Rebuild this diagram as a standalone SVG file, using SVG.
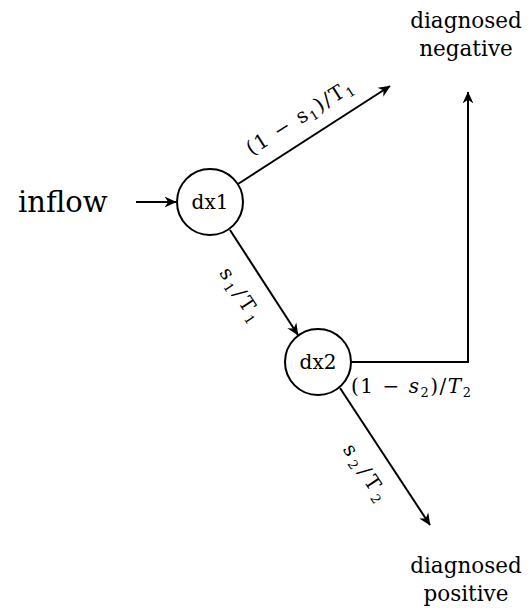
<svg xmlns="http://www.w3.org/2000/svg" width="532" height="608" viewBox="0 0 532 608">
<defs>
<marker id="ah" viewBox="0 0 10 10" refX="9.5" refY="5" markerWidth="12" markerHeight="12" markerUnits="userSpaceOnUse" orient="auto">
<path d="M0,0.5 L10,5 L0,9.5 L3,5 Z" fill="#000"/>
</marker>
<style>
.n{fill:#fff;stroke:#000;stroke-width:2}
.c{fill:none;stroke:#000;stroke-width:2;marker-end:url(#ah)}
text{font-family:"DejaVu Serif","Liberation Serif",serif;fill:#000}
.nt{font-size:20px;text-anchor:middle}
.lb{font-size:20px;text-anchor:middle}
.dg{font-size:21.5px;text-anchor:middle}
.big{font-size:29px}
.sb{font-size:13px}
</style>
</defs>
<rect width="532" height="608" fill="#fff"/>
<g id="connectors">
<line class="c" x1="238" y1="184" x2="390" y2="86"/>
<line class="c" x1="136" y1="202" x2="176" y2="202"/>
<line class="c" x1="230" y1="230" x2="298" y2="335"/>
<polyline class="c" points="351,362 468,362 468,92"/>
<line class="c" x1="340" y1="388" x2="430" y2="525"/>
</g>
<g id="inflow"><text class="big" x="18" y="212">inflow</text></g>
<g id="dx1"><circle class="n" cx="210" cy="202" r="33"/><text class="nt" x="210" y="209">dx1</text></g>
<g id="dx2"><circle class="n" cx="318" cy="362" r="33"/><text class="nt" x="318" y="369">dx2</text></g>
<g id="neg"><text class="dg" x="466" y="28">diagnosed</text><text class="dg" x="466" y="56">negative</text></g>
<g id="pos"><text class="dg" x="466" y="573">diagnosed</text><text class="dg" x="466" y="601">positive</text></g>
<g id="labels">
<text class="lb" transform="translate(303,123) rotate(-32.5)" textLength="122">(1 − s<tspan class="sb" dy="4">1</tspan><tspan dy="-4">)/T</tspan><tspan class="sb" dy="4">1</tspan></text>
<text class="lb" transform="translate(235,298) rotate(57)" textLength="60">s<tspan class="sb" dy="4">1</tspan><tspan dy="-4">/T</tspan><tspan class="sb" dy="4">1</tspan></text>
<text class="lb" transform="translate(360,476) rotate(56.5)" textLength="64">s<tspan class="sb" dy="4">2</tspan><tspan dy="-4">/T</tspan><tspan class="sb" dy="4">2</tspan></text>
<text class="lb" x="411" y="393" textLength="120">(1 − <tspan font-style="italic">s</tspan><tspan class="sb" dy="4">2</tspan><tspan dy="-4">)/</tspan><tspan font-style="italic">T</tspan><tspan class="sb" dy="4">2</tspan></text>
</g>
</svg>
